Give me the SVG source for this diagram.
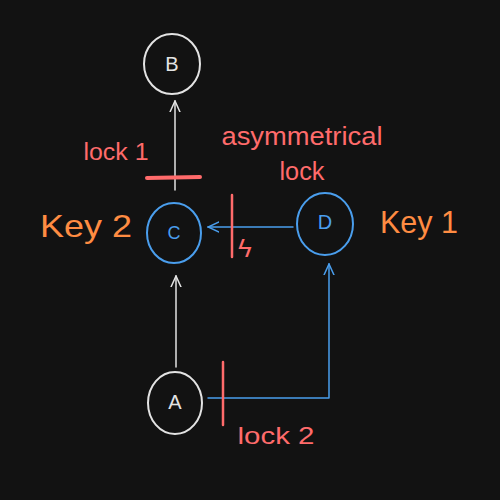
<svg xmlns="http://www.w3.org/2000/svg" width="500" height="500" viewBox="0 0 500 500">
<defs>
<style>
.bg{fill:#121212}
.node{fill:none;stroke-width:2}
.w{stroke:#e3e3e3}
.b{stroke:#4a9eed}
.lbl{font-family:"Liberation Sans",sans-serif;text-anchor:middle;dominant-baseline:central}
.red{fill:#ff6b6b}
.org{fill:#ff8c42}
.conn{fill:none;stroke-width:1.5;stroke-linecap:round;stroke-linejoin:round}
.lock{stroke:#ff6b6b;fill:none;stroke-linecap:round}
</style>
<marker id="aw" viewBox="0 0 12 12" refX="11" refY="6" markerWidth="12" markerHeight="12" markerUnits="userSpaceOnUse" orient="auto">
<path d="M0,1 L11,6 L0,11" fill="none" stroke="#e3e3e3" stroke-width="1.5" stroke-linecap="round"/>
</marker>
<marker id="ab" viewBox="0 0 12 12" refX="11" refY="6" markerWidth="12" markerHeight="12" markerUnits="userSpaceOnUse" orient="auto">
<path d="M0,1 L11,6 L0,11" fill="none" stroke="#4a9eed" stroke-width="1.5" stroke-linecap="round"/>
</marker>
</defs>
<rect class="bg" x="0" y="0" width="500" height="500"/>
<g id="connectors">
<line class="conn" x1="176" y1="367" x2="176" y2="276" stroke="#e3e3e3" marker-end="url(#aw)"/>
<line class="conn" x1="175" y1="190" x2="175" y2="101" stroke="#e3e3e3" marker-end="url(#aw)"/>
<line class="conn" x1="293" y1="227" x2="208" y2="227" stroke="#4a9eed" marker-end="url(#ab)"/>
<polyline class="conn" points="208,398 329,398 329,264" stroke="#4a9eed" marker-end="url(#ab)"/>
</g>
<g id="locks">
<line class="lock" x1="147" y1="178" x2="200" y2="177" stroke-width="4"/>
<line class="lock" x1="232" y1="195" x2="232" y2="257" stroke-width="2.5"/>
<text class="lbl red" x="245" y="248" font-size="26" font-family="DejaVu Sans,sans-serif">ϟ</text>
<line class="lock" x1="223" y1="362" x2="223" y2="425" stroke-width="2.5"/>
</g>
<g id="node-B">
<ellipse class="node w" cx="172" cy="64" rx="28" ry="30"/>
<text class="lbl" x="172" y="64" font-size="20" fill="#e3e3e3">B</text>
</g>
<g id="node-C">
<ellipse class="node b" cx="174" cy="233" rx="27" ry="30" stroke-width="3"/>
<text class="lbl" x="174" y="233" font-size="18" fill="#4a9eed">C</text>
</g>
<g id="node-D">
<ellipse class="node b" cx="325" cy="224" rx="28" ry="31" stroke-width="3"/>
<text class="lbl" x="325" y="222" font-size="20" fill="#4a9eed">D</text>
</g>
<g id="node-A">
<ellipse class="node w" cx="175" cy="403" rx="27" ry="31"/>
<text class="lbl" x="175" y="402" font-size="20" fill="#e3e3e3">A</text>
</g>
<g id="labels">
<text class="lbl red" x="116" y="152" font-size="23" textLength="65" lengthAdjust="spacingAndGlyphs">lock 1</text>
<text class="lbl red" x="302" y="136" font-size="25" textLength="161" lengthAdjust="spacingAndGlyphs">asymmetrical</text>
<text class="lbl red" x="302" y="171" font-size="25" textLength="45" lengthAdjust="spacingAndGlyphs">lock</text>
<text class="lbl red" x="276" y="435" font-size="24" textLength="77" lengthAdjust="spacingAndGlyphs">lock 2</text>
<text class="lbl org" x="86" y="226" font-size="32" textLength="92" lengthAdjust="spacingAndGlyphs">Key 2</text>
<text class="lbl org" x="419" y="222" font-size="32" textLength="78" lengthAdjust="spacingAndGlyphs">Key 1</text>
</g>
</svg>
